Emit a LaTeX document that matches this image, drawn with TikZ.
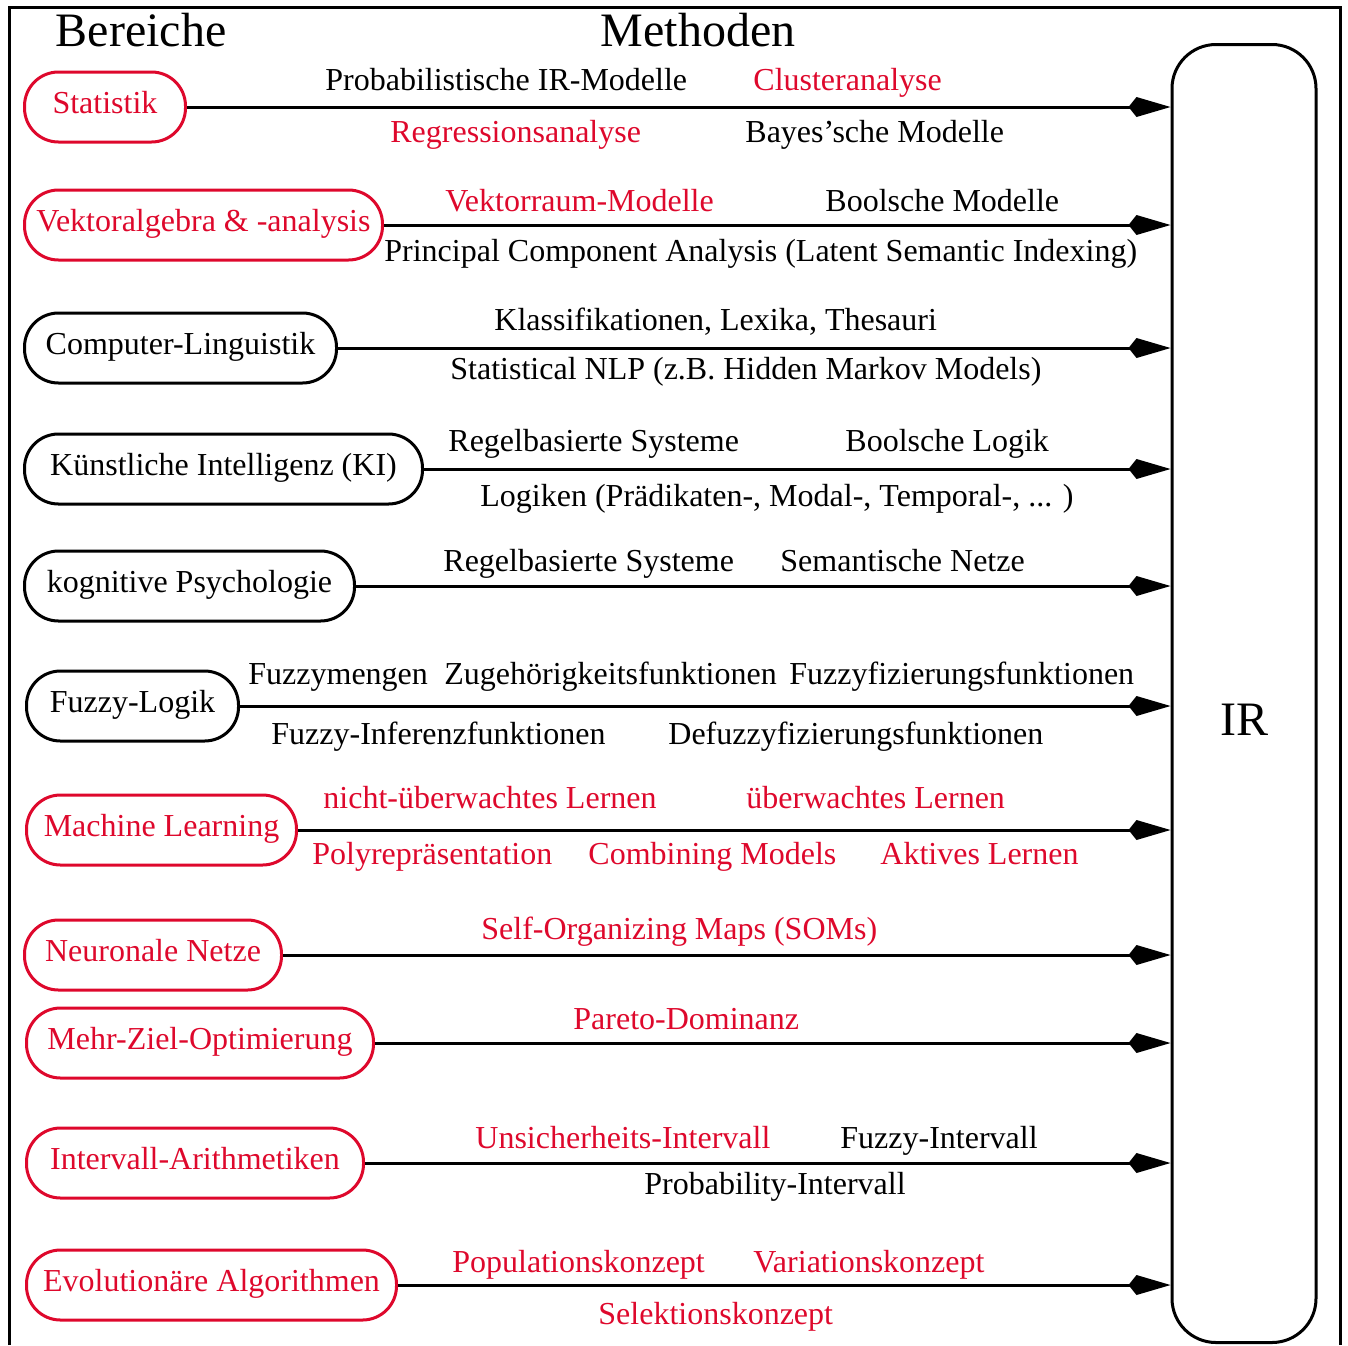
\documentclass[tikz,border=0pt]{standalone}
\usepackage{fontspec}
\setmainfont{Liberation Serif}
\usetikzlibrary{arrows.meta}
\definecolor{irred}{RGB}{222,8,44}
\tikzset{
    area/.style = {rectangle,draw,line width=1.5pt,rounded corners=17pt,minimum height=35pt,inner xsep=5pt,
                   text height=11pt,text depth=5pt,anchor=west},
    redarea/.style = {area,draw=irred,text=irred},
    meth/.style = {anchor=west,inner sep=0pt,text height=11pt,text depth=3pt,yshift=-1pt},
    redmeth/.style = {meth,text=irred},
    link/.style = {line width=1.5pt,-{Kite[length=21pt,width=10pt,inset=4pt]}},
    heading/.style = {font=\fontsize{24}{28}\selectfont},
    irbox/.style = {draw,line width=1.5pt,rounded corners=22pt,minimum width=72pt,minimum height=649pt,anchor=north}}

\begin{document}
\begin{tikzpicture}[x=0.5pt,y=-0.5pt,font=\fontsize{16}{19}\selectfont]
        \useasboundingbox (0,0) rectangle (1348,1345);
        \draw[line width=1.5pt] (9,1345) -- (9,7) -- (1340,7) -- (1340,1345);
        \node[heading] (bereiche) at (141,30) {Bereiche};
        \node[heading] (methoden) at (698,30) {Methoden};
        \node[irbox] (ir) at (1244,43) {};
        \node[heading] (irtext) at (1244,720) {IR};
        % Bereiche
        \node[redarea,minimum width=80.5pt] (stat) at (23,107) {Statistik};
        \node[redarea,minimum width=179pt] (vekt) at (23,225) {Vektoralgebra \& -analysis};
        \node[area,minimum width=156pt] (ling) at (23,348) {Computer-Linguistik};
        \node[area,minimum width=199pt] (ki) at (23,469) {Künstliche Intelligenz (KI)};
        \node[area,minimum width=165pt] (psych) at (23,586) {kognitive Psychologie};
        \node[area,minimum width=106pt] (fuzzy) at (25,706) {Fuzzy-Logik};
        \node[redarea,minimum width=135pt] (ml) at (25,830) {Machine Learning};
        \node[redarea,minimum width=128.5pt] (nn) at (23,955) {Neuronale Netze};
        \node[redarea,minimum width=173.5pt] (mzo) at (25,1043) {Mehr-Ziel-Optimierung};
        \node[redarea,minimum width=168.5pt] (ia) at (25,1163) {Intervall-Arithmetiken};
        \node[redarea,minimum width=185pt] (ea) at (25,1285) {Evolutionäre Algorithmen};
        \foreach \a in {stat,vekt,ling,ki,psych,fuzzy,ml,nn,mzo,ia,ea}
            \draw[link] (\a) -- (\a -| ir.west);
        % Methoden
        \node[meth] (probmod) at (325,80) {Probabilistische IR-Modelle};
        \node[redmeth] (cluster) at (753,80) {Clusteranalyse};
        \node[redmeth] (regr) at (390,132) {Regressionsanalyse};
        \node[meth] (bayes) at (745,132) {Bayes’sche Modelle};
        \node[redmeth] (vrm) at (445,201) {Vektorraum-Modelle};
        \node[meth] (boolmod) at (825,201) {Boolsche Modelle};
        \node[meth] (pca) at (384,251) {Principal Component Analysis (Latent Semantic Indexing)};
        \node[meth] (klass) at (494,320) {Klassifikationen, Lexika, Thesauri};
        \node[meth] (nlp) at (450,369) {Statistical NLP (z.B. Hidden Markov Models)};
        \node[meth] (regel1) at (448,441) {Regelbasierte Systeme};
        \node[meth] (boollog) at (845,441) {Boolsche Logik};
        \node[meth] (logiken) at (480,496) {Logiken (Prädikaten-, Modal-, Temporal-, ... )};
        \node[meth] (regel2) at (443,561) {Regelbasierte Systeme};
        \node[meth] (semnetz) at (780,561) {Semantische Netze};
        \node[meth] (fmengen) at (248,674) {Fuzzymengen};
        \node[meth] (zugeh) at (444,674) {Zugehörigkeitsfunktionen};
        \node[meth] (fuzzyf) at (789,674) {Fuzzyfizierungsfunktionen};
        \node[meth] (infer) at (271,734) {Fuzzy-Inferenzfunktionen};
        \node[meth] (defuzzy) at (668,734) {Defuzzyfizierungsfunktionen};
        \node[redmeth] (unsup) at (323,798) {nicht-überwachtes Lernen};
        \node[redmeth] (sup) at (746,798) {überwachtes Lernen};
        \node[redmeth] (polyrep) at (312,854) {Polyrepräsentation};
        \node[redmeth] (combine) at (588,854) {Combining Models};
        \node[redmeth] (aktiv) at (880,854) {Aktives Lernen};
        \node[redmeth] (som) at (481,929) {Self-Organizing Maps (SOMs)};
        \node[redmeth] (pareto) at (573,1019) {Pareto-Dominanz};
        \node[redmeth] (unsich) at (475,1138) {Unsicherheits-Intervall};
        \node[meth] (fint) at (840,1138) {Fuzzy-Intervall};
        \node[meth] (pint) at (644,1184) {Probability-Intervall};
        \node[redmeth] (pop) at (452,1262) {Populationskonzept};
        \node[redmeth] (vari) at (753,1262) {Variationskonzept};
        \node[redmeth] (selekt) at (598,1314) {Selektionskonzept};
\end{tikzpicture}
\end{document}
